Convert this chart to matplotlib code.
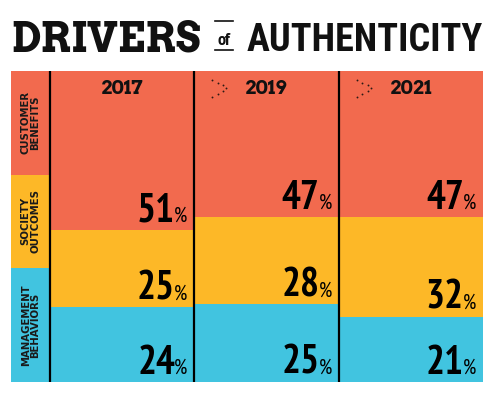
import matplotlib
matplotlib.use("Agg")
import matplotlib.pyplot as plt

# data
years = ["2017", "2019", "2021"]
drivers = ["MANAGEMENT\nBEHAVIORS", "SOCIETY\nOUTCOMES", "CUSTOMER\nBENEFITS"]  # bottom -> top
management = [24, 25, 21]
society = [25, 28, 32]
customer = [51, 47, 47]
label_bands = [36.7, 29.9, 33.4]  # left label column band shares, bottom -> top

RED = "#F26A4E"
YELLOW = "#FDB827"
BLUE = "#41C4E0"
colors = [BLUE, YELLOW, RED]

NUM_FONT = ["PT Sans Narrow", "DejaVu Sans"]
SLAB_FONT = ["Arvo", "DejaVu Serif"]
HEAD_FONT = ["Roboto Condensed", "DejaVu Sans"]
LABEL_FONT = ["DejaVu Sans"]

W, H, DPI = 499, 407, 100
fig = plt.figure(figsize=(W / DPI, H / DPI), dpi=DPI)
fig.patch.set_facecolor("white")
renderer = fig.canvas.get_renderer()

# chart area in pixels: x 11..483, y 71..382
ax = fig.add_axes([11 / W, 1 - 382 / H, 472 / W, 311 / H])
LABEL_W = 0.27
ax.set_xlim(0, LABEL_W + len(years))
ax.set_ylim(0, 100)
ax.axis("off")

# left label column
bottom = 0
for name, share, c in zip(drivers, label_bands, colors):
    ax.bar(0, share, width=LABEL_W, bottom=bottom, align="edge", color=c, linewidth=0)
    ax.text(LABEL_W / 2, bottom + share / 2, name, rotation=90, ha="center", va="center",
            fontsize=7.3, fontweight="bold", color="#1a1a1a",
            linespacing=0.95, family=LABEL_FONT)
    bottom += share

# stacked columns
xs = [LABEL_W + i for i in range(len(years))]
series = [management, society, customer]
bottoms = [0] * len(years)
for vals, c in zip(series, colors):
    ax.bar(xs, vals, width=1, bottom=bottoms, align="edge", color=c, linewidth=0)
    for x, v, b in zip(xs, vals, bottoms):
        pct = ax.annotate("%", xy=(x + 1, b), xytext=(-7, 8), textcoords="offset pixels",
                          ha="right", va="baseline", fontsize=15, family=NUM_FONT,
                          color="black")
        pw = pct.get_window_extent(renderer).width
        ax.annotate(str(v), xy=(x + 1, b), xytext=(-6 - pw, 8), textcoords="offset pixels",
                    ha="right", va="baseline", fontsize=28.5, fontweight="bold",
                    family=NUM_FONT, color="black")
    bottoms = [b + v for b, v in zip(bottoms, vals)]

# column dividers
for x in xs:
    ax.axvline(x, color="black", lw=1.6)

# year headers with dotted chevrons
for i, (x, yr) in enumerate(zip(xs, years)):
    ax.text(x + 0.5, 94.3, yr, ha="center", va="center", fontsize=14,
            fontweight="bold", family=SLAB_FONT, color="#111111")
    if i > 0:
        cx = [x + 0.125, x + 0.165, x + 0.2, x + 0.222, x + 0.2, x + 0.165, x + 0.125]
        cy = [97.2, 96.3, 95.5, 94.5, 93.5, 92.6, 91.8]
        ax.scatter(cx, cy, s=1.8, color="#2a1a14", linewidths=0)


def fit_text(x, y, s, width_px, ha, **kw):
    t = fig.text(x, y, s, ha=ha, va="baseline", fontsize=20, **kw)
    w = t.get_window_extent(renderer).width
    t.set_fontsize(20 * width_px / w)
    return t


# title
ty = 1 - 51 / H
fit_text(11 / W, ty, "DRIVERS", 189, "left", fontweight="bold", family=SLAB_FONT,
         color="#111111")
fig.text(224 / W, 1 - 45 / H, "of", ha="center", va="baseline", fontsize=13,
         fontweight="bold", family=NUM_FONT, color="#111111")
fig.add_artist(plt.Line2D([215 / W, 233 / W], [1 - 21 / H, 1 - 21 / H], color="#111111", lw=1.2))
fig.add_artist(plt.Line2D([215 / W, 233 / W], [1 - 50 / H, 1 - 50 / H], color="#111111", lw=1.2))
fit_text(483 / W, ty, "AUTHENTICITY", 236, "right", fontweight="bold", family=HEAD_FONT,
         color="#111111")

fig.savefig("out.png", dpi=DPI, facecolor="white")
